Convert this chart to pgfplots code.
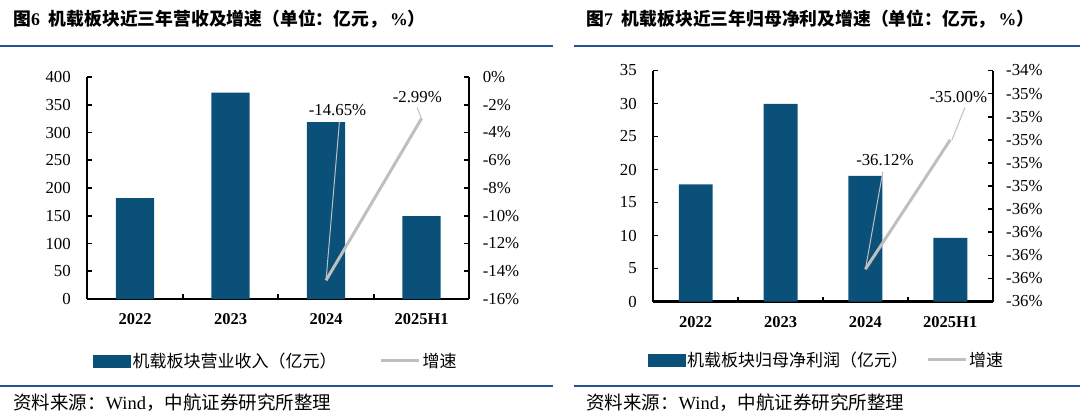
\documentclass[border=0pt]{standalone}
\usepackage{fontspec}
\setmainfont{Liberation Serif}
\newfontfamily\cjk{Noto Sans CJK SC}
\usepackage{pgfplots}
\usepackage{pgfplotstable}
\pgfplotsset{compat=1.18}
\definecolor{barblue}{RGB}{11,80,121}
\definecolor{linegray}{RGB}{191,191,191}
\definecolor{ruleblue}{RGB}{36,84,150}

\pgfplotstableread{
x v
0 181.9
1 371.7
2 318.7
3 149.4
}\revtable
\pgfplotstableread{
x g
2 -14.65
3 -2.99
}\revgrowth
\pgfplotstableread{
x v
0 17.76
1 29.95
2 19.05
3 9.65
}\proftable
\pgfplotstableread{
x g
2 -36.12
3 -35.00
}\profgrowth

\pgfplotsset{
  base/.style={scale only axis, xmin=-0.5, xmax=3.5, clip=false,
    tick align=inside, major tick length=5pt, minor tick length=5pt,
    tick style={black, line width=1.6pt},
    axis line style={black, line width=2.2pt, -},
    tick label style={font=\fontsize{16.8}{18}\selectfont},
  },
  barax/.style={base, axis x line*=bottom, axis y line*=left,
    xtick={0,1,2,3}, xticklabels={2022,2023,2024,2025H1},
    x tick label style={font=\fontsize{16.5}{18}\selectfont\bfseries, yshift=-11pt},
    major x tick style={draw=none},
    minor xtick={0.5,1.5,2.5},
    yticklabel style={xshift=-13pt},
    /pgf/number format/assume math mode=true,
  },
  lineax/.style={base, axis y line*=right, axis x line=none,
    yticklabel style={xshift=10pt},
    legend columns=2,
    legend style={draw=none, fill=none, inner sep=0pt, anchor=west,
      font=\fontsize{17}{19}\selectfont, cells={anchor=west}},
  },
}

\begin{document}
\begin{tikzpicture}[x=1pt,y=1pt]
\useasboundingbox (0,0) rectangle (1080,416);
% frame
\draw[ruleblue, line width=2pt] (0,370) -- (553,370);
\draw[ruleblue, line width=2pt] (574,370) -- (1080,370);
\draw[ruleblue, line width=2pt] (0,30) -- (553,30);
\draw[ruleblue, line width=2pt] (574,30) -- (1080,30);
\node[anchor=west, inner sep=0pt, font=\fontsize{17.8}{19}\selectfont\bfseries] at (13,397)
  {{\cjk 图}6\hspace{9pt}{\cjk 机载板块近三年营收及增速（单位：亿元，}\hspace{3pt}\%{\cjk ）}};
\node[anchor=west, inner sep=0pt, font=\fontsize{17.8}{19}\selectfont\bfseries] at (586,397)
  {{\cjk 图}7\hspace{9pt}{\cjk 机载板块近三年归母净利及增速（单位：亿元，}\hspace{3pt}\%{\cjk ）}};
\node[anchor=west, inner sep=0pt, font=\fontsize{18.5}{20}\selectfont] at (13,13)
  {{\cjk 资料来源：}Wind{\cjk ，中航证券研究所整理}};
\node[anchor=west, inner sep=0pt, font=\fontsize{18.5}{20}\selectfont] at (586,13)
  {{\cjk 资料来源：}Wind{\cjk ，中航证券研究所整理}};

% ===== left panel =====
\begin{axis}[barax, at={(87.3pt,117pt)}, anchor=south west, width=382pt, height=222pt,
  ymin=0, ymax=400, ytick={0,50,...,400}]
\addplot[ybar, bar width=0.4, fill=barblue, draw=none] table[x=x,y=v]{\revtable};
\end{axis}
\begin{axis}[lineax, at={(87.3pt,117pt)}, anchor=south west, width=382pt, height=222pt,
  ymin=-16, ymax=0, ytick={-16,-14,-12,-10,-8,-6,-4,-2,0},
  yticklabels={-16\%,-14\%,-12\%,-10\%,-8\%,-6\%,-4\%,-2\%,0\%},
  legend style={at={(0.015,-0.278)},
    /tikz/every even column/.append style={column sep=41pt}}]
\addlegendimage{legend image code/.code={\fill[barblue] (0pt,-6pt) rectangle (37pt,6pt);}}
\addlegendentry{\cjk 机载板块营业收入（亿元）}
\addplot[linegray, line width=3pt,
  legend image code/.code={\draw[linegray,line width=3pt] (0pt,0pt) -- (38pt,0pt);}]
  table[x=x,y=g]{\revgrowth};
\addlegendentry{\cjk 增速}
\draw[linegray, line width=1pt] (axis cs:2.14,-3.25) -- (axis cs:2,-14.65);
\draw[linegray, line width=1pt] (axis cs:2.955,-2.20) -- (axis cs:3.0,-3.03);
\node[font=\fontsize{16.8}{18}\selectfont, inner sep=0pt] at (axis cs:2.12,-2.41) {-14.65\%};
\node[font=\fontsize{16.8}{18}\selectfont, inner sep=0pt] at (axis cs:2.955,-1.41) {-2.99\%};
\end{axis}

% ===== right panel =====
\begin{axis}[barax, at={(653.3pt,114.5pt)}, anchor=south west, width=339.4pt, height=231pt,
  ymin=0, ymax=35, ytick={0,5,...,35}]
\addplot[ybar, bar width=0.4, fill=barblue, draw=none] table[x=x,y=v]{\proftable};
\end{axis}
\begin{axis}[lineax, at={(653.3pt,114.5pt)}, anchor=south west, width=339.4pt, height=231pt,
  ymin=-36.4, ymax=-34.4,
  ytick={-36.4,-36.2,-36.0,-35.8,-35.6,-35.4,-35.2,-35.0,-34.8,-34.6,-34.4},
  yticklabels={-36\%,-36\%,-36\%,-36\%,-36\%,-35\%,-35\%,-35\%,-35\%,-35\%,-34\%},
  legend style={at={(-0.017,-0.253)},
    /tikz/every even column/.append style={column sep=16pt}}]
\addlegendimage{legend image code/.code={\fill[barblue] (0pt,-6pt) rectangle (37pt,6pt);}}
\addlegendentry{\cjk 机载板块归母净利润（亿元）}
\addplot[linegray, line width=3pt,
  legend image code/.code={\draw[linegray,line width=3pt] (0pt,0pt) -- (38pt,0pt);}]
  table[x=x,y=g]{\profgrowth};
\addlegendentry{\cjk 增速}
\draw[linegray, line width=1pt] (axis cs:2.205,-35.277) -- (axis cs:2,-36.12);
\draw[linegray, line width=1pt] (axis cs:3.173,-34.72) -- (axis cs:3.02,-35.0);
\node[font=\fontsize{16.8}{18}\selectfont, inner sep=0pt] at (axis cs:2.23,-35.177) {-36.12\%};
\node[font=\fontsize{16.8}{18}\selectfont, inner sep=0pt] at (axis cs:3.095,-34.627) {-35.00\%};
\end{axis}
\end{tikzpicture}
\end{document}
